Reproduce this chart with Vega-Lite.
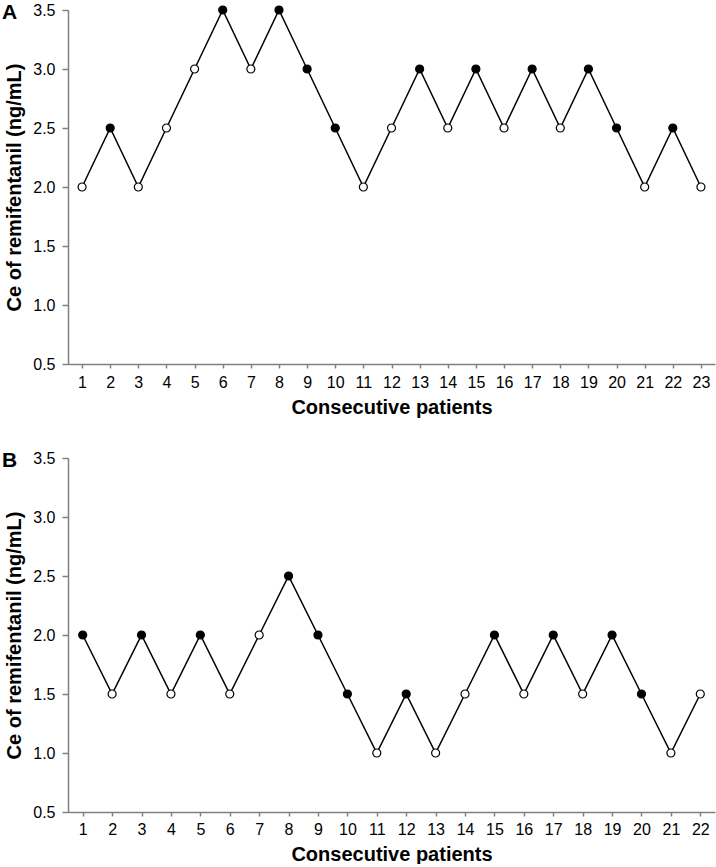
{
  "$schema": "https://vega.github.io/schema/vega-lite/v6.json",
  "padding": {"left": 2, "top": 2, "right": 2, "bottom": 0},
  "spacing": 33,
  "config": {
    "font": "Liberation Sans",
    "view": {"stroke": null},
    "axis": {
      "grid": false,
      "domainColor": "#808080",
      "domainWidth": 1.5,
      "tickColor": "#808080",
      "tickWidth": 1.5,
      "labelColor": "#000000",
      "labelFont": "Liberation Sans",
      "labelFontSize": 16,
      "titleFont": "Liberation Sans",
      "titleFontSize": 20,
      "titleFontWeight": "bold",
      "titleColor": "#000000"
    },
    "title": {"font": "Liberation Sans", "fontSize": 21, "fontWeight": "bold", "anchor": "start", "frame": "group", "color": "#000000"}
  },
  "vconcat": [
    {
      "title": {"text": "A", "dx": -66, "dy": 25},
      "width": 647,
      "height": 354,
      "data": {"values": [
        {"patient": 1, "ce": 2.0, "response": "open"},
        {"patient": 2, "ce": 2.5, "response": "filled"},
        {"patient": 3, "ce": 2.0, "response": "open"},
        {"patient": 4, "ce": 2.5, "response": "open"},
        {"patient": 5, "ce": 3.0, "response": "open"},
        {"patient": 6, "ce": 3.5, "response": "filled"},
        {"patient": 7, "ce": 3.0, "response": "open"},
        {"patient": 8, "ce": 3.5, "response": "filled"},
        {"patient": 9, "ce": 3.0, "response": "filled"},
        {"patient": 10, "ce": 2.5, "response": "filled"},
        {"patient": 11, "ce": 2.0, "response": "open"},
        {"patient": 12, "ce": 2.5, "response": "open"},
        {"patient": 13, "ce": 3.0, "response": "filled"},
        {"patient": 14, "ce": 2.5, "response": "open"},
        {"patient": 15, "ce": 3.0, "response": "filled"},
        {"patient": 16, "ce": 2.5, "response": "open"},
        {"patient": 17, "ce": 3.0, "response": "filled"},
        {"patient": 18, "ce": 2.5, "response": "open"},
        {"patient": 19, "ce": 3.0, "response": "filled"},
        {"patient": 20, "ce": 2.5, "response": "filled"},
        {"patient": 21, "ce": 2.0, "response": "open"},
        {"patient": 22, "ce": 2.5, "response": "filled"},
        {"patient": 23, "ce": 2.0, "response": "open"}
      ]},
      "encoding": {
        "x": {"field": "patient", "type": "quantitative",
          "scale": {"domain": [0.5, 23.5], "nice": false, "zero": false},
          "axis": {"title": "Consecutive patients", "values": [1,2,3,4,5,6,7,8,9,10,11,12,13,14,15,16,17,18,19,20,21,22,23], "tickSize": 4, "labelPadding": 6, "titlePadding": 7, "labelFlush": false}},
        "y": {"field": "ce", "type": "quantitative",
          "scale": {"domain": [0.5, 3.5], "nice": false, "zero": false},
          "axis": {"title": "Ce of remifentanil (ng/mL)", "values": [0.5,1,1.5,2,2.5,3,3.5], "format": ".1f", "tickSize": 6, "labelPadding": 7, "titlePadding": 8, "labelFlush": false}}
      },
      "layer": [
        {"mark": {"type": "line", "color": "#000000", "strokeWidth": 1.5}},
        {"mark": {"type": "point", "shape": "circle", "filled": false, "size": 64, "stroke": "#000000", "strokeWidth": 1.2, "opacity": 1},
          "encoding": {"fill": {"field": "response", "type": "nominal", "scale": {"domain": ["filled", "open"], "range": ["#000000", "#ffffff"]}, "legend": null}}}
      ]
    },
    {
      "title": {"text": "B", "dx": -66, "dy": 25},
      "width": 647,
      "height": 354,
      "data": {"values": [
        {"patient": 1, "ce": 2.0, "response": "filled"},
        {"patient": 2, "ce": 1.5, "response": "open"},
        {"patient": 3, "ce": 2.0, "response": "filled"},
        {"patient": 4, "ce": 1.5, "response": "open"},
        {"patient": 5, "ce": 2.0, "response": "filled"},
        {"patient": 6, "ce": 1.5, "response": "open"},
        {"patient": 7, "ce": 2.0, "response": "open"},
        {"patient": 8, "ce": 2.5, "response": "filled"},
        {"patient": 9, "ce": 2.0, "response": "filled"},
        {"patient": 10, "ce": 1.5, "response": "filled"},
        {"patient": 11, "ce": 1.0, "response": "open"},
        {"patient": 12, "ce": 1.5, "response": "filled"},
        {"patient": 13, "ce": 1.0, "response": "open"},
        {"patient": 14, "ce": 1.5, "response": "open"},
        {"patient": 15, "ce": 2.0, "response": "filled"},
        {"patient": 16, "ce": 1.5, "response": "open"},
        {"patient": 17, "ce": 2.0, "response": "filled"},
        {"patient": 18, "ce": 1.5, "response": "open"},
        {"patient": 19, "ce": 2.0, "response": "filled"},
        {"patient": 20, "ce": 1.5, "response": "filled"},
        {"patient": 21, "ce": 1.0, "response": "open"},
        {"patient": 22, "ce": 1.5, "response": "open"}
      ]},
      "encoding": {
        "x": {"field": "patient", "type": "quantitative",
          "scale": {"domain": [0.5, 22.5], "nice": false, "zero": false},
          "axis": {"title": "Consecutive patients", "values": [1,2,3,4,5,6,7,8,9,10,11,12,13,14,15,16,17,18,19,20,21,22], "tickSize": 4, "labelPadding": 5, "titlePadding": 7, "labelFlush": false}},
        "y": {"field": "ce", "type": "quantitative",
          "scale": {"domain": [0.5, 3.5], "nice": false, "zero": false},
          "axis": {"title": "Ce of remifentanil (ng/mL)", "values": [0.5,1,1.5,2,2.5,3,3.5], "format": ".1f", "tickSize": 6, "labelPadding": 7, "titlePadding": 8, "labelFlush": false}}
      },
      "layer": [
        {"mark": {"type": "line", "color": "#000000", "strokeWidth": 1.5}},
        {"mark": {"type": "point", "shape": "circle", "filled": false, "size": 64, "stroke": "#000000", "strokeWidth": 1.2, "opacity": 1},
          "encoding": {"fill": {"field": "response", "type": "nominal", "scale": {"domain": ["filled", "open"], "range": ["#000000", "#ffffff"]}, "legend": null}}}
      ]
    }
  ],
  "resolve": {"scale": {"fill": "independent"}}
}
